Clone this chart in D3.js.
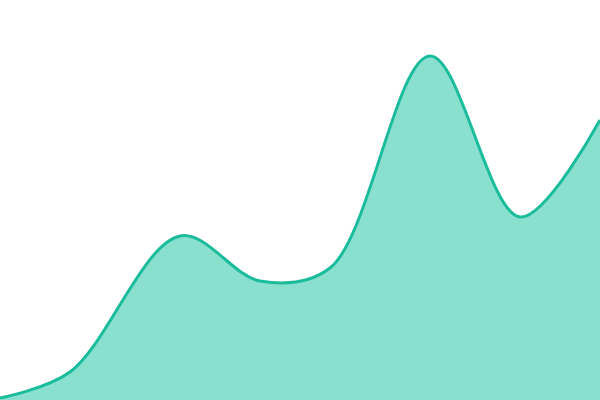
<!DOCTYPE html>
<html><head><meta charset="utf-8">
<script src="https://cdn.jsdelivr.net/npm/d3@7"></script>
<style>html,body{margin:0;padding:0;background:#fff;overflow:hidden}</style>
</head><body>
<svg id="c" width="600" height="400"></svg>
<script>
const xs = [0, 70, 180, 260, 330, 430, 520, 600];
const values = [2, 28, 164, 119, 132, 344, 183, 280];

const W = 600, H = 400;
const svg = d3.select("#c");
const x = d3.scaleLinear().domain([0, 600]).range([0, W]);
const y = d3.scaleLinear().domain([0, 400]).range([H, 0]);
const data = xs.map((d, i) => ({x: d, v: values[i]}));

const curve = d3.curveCatmullRom.alpha(0.5);
const area = d3.area().x(d => x(d.x)).y0(H + 2).y1(d => y(d.v)).curve(curve);
const line = d3.line().x(d => x(d.x)).y(d => y(d.v)).curve(curve);

svg.append("path").datum(data).attr("d", area).attr("fill", "#8ae0cf");
svg.append("path").datum(data).attr("d", line).attr("fill", "none")
  .attr("stroke", "#1abc9c").attr("stroke-width", 3);
</script>
</body></html>
